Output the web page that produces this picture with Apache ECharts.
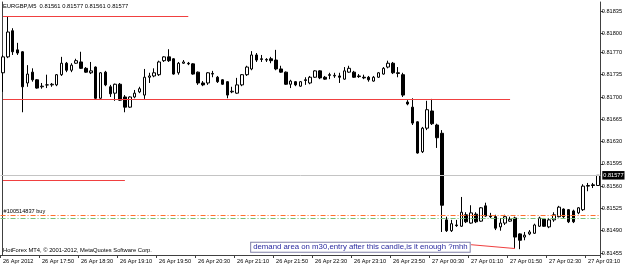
<!DOCTYPE html>
<html><head><meta charset="utf-8">
<script src="https://cdn.jsdelivr.net/npm/echarts@6/dist/echarts.min.js"></script>
<style>html,body{margin:0;padding:0;background:#fff}#c{width:625px;height:268px}</style>
</head><body><div id="c"></div>
<script>
const symbolName = 'EURGBP', timeframe = 'M5';
// bars: 26 Apr 17:10 ... 27 Apr 03:20, every 5 minutes
const barCount = 123;
const categories = [];
for (let i = 0; i < barCount; i++) {
  const m = 17 * 60 + 10 + 5 * i;
  const d = m >= 1440 ? 27 : 26, mm = m % 1440;
  categories.push(d + ' Apr ' + String(Math.floor(mm / 60)).padStart(2, '0') + ':' + String(mm % 60).padStart(2, '0'));
}
const xTickLabels = ['26 Apr 2012','26 Apr 17:50','26 Apr 18:30','26 Apr 19:10','26 Apr 19:50','26 Apr 20:30','26 Apr 21:10','26 Apr 21:50','26 Apr 22:30','26 Apr 23:10','26 Apr 23:50','27 Apr 00:30','27 Apr 01:10','27 Apr 01:50','27 Apr 02:30','27 Apr 03:10'];
const yTicks = [0.81455,0.81490,0.81525,0.81560,0.81595,0.81630,0.81665,0.81700,0.81735,0.81770,0.81800,0.81835];

const opens = [0.81738,0.81763,0.81804,0.81774,0.81771,0.81722,0.81739,0.81727,0.81716,0.81719,
0.81719,0.81719,0.81735,0.81753,0.81742,0.81753,0.81755,0.81745,0.81738,0.81747,
0.81698,0.81739,0.81716,0.81706,0.81720,0.81700,0.81684,0.81700,0.81708,0.81703,
0.81731,0.81733,0.81735,0.81757,0.81763,0.81760,0.81738,0.81753,0.81753,0.81752,
0.81739,0.81722,0.81722,0.81736,0.81731,0.81727,0.81724,0.81708,0.81706,0.81719,
0.81735,0.81744,0.81766,0.81760,0.81758,0.81760,0.81758,0.81744,0.81739,0.81720,
0.81724,0.81717,0.81727,0.81722,0.81731,0.81741,0.81731,0.81735,0.81733,0.81733,
0.81728,0.81739,0.81739,0.81733,0.81731,0.81731,0.81725,0.81731,0.81736,0.81747,
0.81753,0.81738,0.81735,0.81692,0.81684,0.81661,0.81614,0.81651,0.81678,0.81656,
0.81643,0.81507,0.81490,0.81499,0.81497,0.81515,0.81502,0.81516,0.81505,0.81529,
0.81513,0.81512,0.81496,0.81502,0.81505,0.81510,0.81485,0.81480,0.81485,0.81486,
0.81497,0.81508,0.81496,0.81507,0.81512,0.81524,0.81523,0.81521,0.81518,0.81523,
0.81560,0.81562,0.81561];
const closes = [0.81763,0.81802,0.81771,0.81769,0.81716,0.81736,0.81727,0.81714,0.81717,0.81719,
0.81720,0.81735,0.81753,0.81742,0.81750,0.81757,0.81745,0.81739,0.81741,0.81698,
0.81738,0.81719,0.81705,0.81720,0.81695,0.81684,0.81700,0.81706,0.81713,0.81731,
0.81733,0.81738,0.81755,0.81763,0.81757,0.81736,0.81753,0.81755,0.81752,0.81736,
0.81722,0.81719,0.81738,0.81737,0.81724,0.81720,0.81703,0.81709,0.81719,0.81735,
0.81747,0.81766,0.81758,0.81759,0.81759,0.81757,0.81744,0.81739,0.81720,0.81725,
0.81719,0.81724,0.81726,0.81731,0.81741,0.81730,0.81728,0.81734,0.81734,0.81731,
0.81741,0.81745,0.81731,0.81732,0.81730,0.81727,0.81731,0.81738,0.81745,0.81753,
0.81738,0.81737,0.81703,0.81689,0.81659,0.81612,0.81651,0.81680,0.81658,0.81636,
0.81530,0.81490,0.81501,0.81498,0.81519,0.81504,0.81518,0.81504,0.81526,0.81513,
0.81512,0.81494,0.81502,0.81512,0.81508,0.81480,0.81475,0.81483,0.81488,0.81499,
0.81510,0.81497,0.81507,0.81515,0.81527,0.81512,0.81504,0.81504,0.81526,0.81560,
0.81561,0.81561,0.81577];
const lows = [0.81708,0.81761,0.81766,0.81766,0.81676,0.81716,0.81724,0.81713,0.81713,0.81714,
0.81716,0.81717,0.81733,0.81739,0.81739,0.81752,0.81744,0.81738,0.81736,0.81697,
0.81697,0.81717,0.81700,0.81694,0.81694,0.81676,0.81683,0.81698,0.81706,0.81697,
0.81722,0.81731,0.81733,0.81755,0.81755,0.81735,0.81735,0.81752,0.81750,0.81735,
0.81719,0.81717,0.81719,0.81731,0.81722,0.81719,0.81698,0.81706,0.81705,0.81717,
0.81733,0.81742,0.81755,0.81755,0.81755,0.81753,0.81742,0.81738,0.81719,0.81714,
0.81717,0.81716,0.81719,0.81720,0.81730,0.81728,0.81727,0.81728,0.81730,0.81722,
0.81727,0.81738,0.81730,0.81730,0.81728,0.81724,0.81724,0.81730,0.81735,0.81745,
0.81736,0.81731,0.81700,0.81687,0.81656,0.81611,0.81612,0.81648,0.81656,0.81620,
0.81488,0.81488,0.81488,0.81496,0.81496,0.81502,0.81501,0.81502,0.81504,0.81512,
0.81510,0.81491,0.81490,0.81499,0.81504,0.81463,0.81461,0.81475,0.81483,0.81485,
0.81496,0.81496,0.81494,0.81504,0.81511,0.81510,0.81502,0.81502,0.81516,0.81521,
0.81552,0.81557,0.81561];
const highs = [0.81766,0.81827,0.81808,0.81785,0.81772,0.81750,0.81745,0.81728,0.81722,0.81735,
0.81722,0.81736,0.81763,0.81755,0.81753,0.81760,0.81771,0.81747,0.81755,0.81748,
0.81739,0.81741,0.81719,0.81721,0.81722,0.81703,0.81701,0.81711,0.81716,0.81744,
0.81738,0.81745,0.81757,0.81764,0.81775,0.81761,0.81755,0.81758,0.81755,0.81753,
0.81740,0.81725,0.81739,0.81741,0.81733,0.81728,0.81725,0.81716,0.81730,0.81736,
0.81749,0.81772,0.81769,0.81766,0.81761,0.81763,0.81774,0.81749,0.81740,0.81727,
0.81725,0.81725,0.81731,0.81733,0.81742,0.81742,0.81733,0.81738,0.81738,0.81738,
0.81747,0.81749,0.81741,0.81736,0.81735,0.81733,0.81733,0.81739,0.81747,0.81757,
0.81755,0.81747,0.81738,0.81695,0.81698,0.81662,0.81653,0.81694,0.81697,0.81658,
0.81648,0.81512,0.81507,0.81507,0.81543,0.81519,0.81530,0.81519,0.81527,0.81534,
0.81518,0.81515,0.81510,0.81515,0.81512,0.81512,0.81486,0.81488,0.81491,0.81501,
0.81512,0.81510,0.81510,0.81519,0.81529,0.81525,0.81524,0.81523,0.81527,0.81563,
0.81565,0.81565,0.81577];

// user-drawn objects: [fromBar, toBar, price]
const redLevels = [[0, 38, 0.81827], [0, 104, 0.81696], [0, 25, 0.81570]];
const trendLine = [[96, 0.81468], [105, 0.81462]];
const orderPrice = 0.81514, orderLabel = '#100514837 buy';
const secondOrderPrice = 0.81509;
const note = {bar: 73, price: 0.81464, text: 'demand area on m30,entry after this candle,is it enough ?mhh'};
const copyright = 'HotForex MT4, \u00a9 2001-2012, MetaQuotes Software Corp.';

const FONT = 'Liberation Sans, Arial, sans-serif';
const last = barCount - 1;
const f5 = v => Number(v).toFixed(5);
const header = symbolName + ',' + timeframe + '  ' + [opens[last], highs[last], lows[last], closes[last]].map(f5).join(' ');
const candles = categories.map((_, i) => [opens[i], closes[i], lows[i], highs[i]]);

const yMin = 0.8145185, yMax = 0.8184916;
const chart = echarts.init(document.getElementById('c'), null, {renderer: 'canvas'});
const redStyle = () => ({color: '#f04040', width: 1, type: 'solid'});

chart.setOption({
  animation: false,
  backgroundColor: '#ffffff',
  title: [
    {text: header, left: 3, top: 3, padding: 0, textStyle: {fontSize: 5.8, fontWeight: 'normal', color: '#000', fontFamily: FONT}},
    {text: copyright, left: 3, top: 247.5, padding: 0, textStyle: {fontSize: 5.8, fontWeight: 'normal', color: '#000', fontFamily: FONT}}
  ],
  grid: {left: 0, right: 24.3, top: 2, bottom: 13},
  xAxis: {
    type: 'category', data: categories, boundaryGap: true,
    axisLine: {show: true, onZero: false, lineStyle: {color: '#404040', width: 1}},
    axisTick: {show: true, length: 3, interval: i => i % 8 === 0, lineStyle: {color: '#404040'}},
    axisLabel: {show: true, interval: i => i % 8 === 0, align: 'left', margin: 3,
      formatter: (v, i) => xTickLabels[i / 8] || '', fontSize: 5.6, color: '#000', fontFamily: FONT},
    splitLine: {show: false}
  },
  yAxis: [{
    type: 'value', position: 'right', min: yMin, max: yMax,
    axisLine: {show: true, onZero: false, lineStyle: {color: '#404040', width: 1}},
    axisTick: {show: true, length: 3, customValues: yTicks, lineStyle: {color: '#404040'}},
    axisLabel: {show: true, customValues: yTicks, margin: 1.5, formatter: v => f5(v), fontSize: 5.6, color: '#000', fontFamily: FONT},
    splitLine: {show: false}
  }, {
    type: 'value', position: 'left', offset: -2, min: yMin, max: yMax,
    axisLine: {show: true, onZero: false, lineStyle: {color: '#404040', width: 1}},
    axisTick: {show: false}, axisLabel: {show: false}, splitLine: {show: false}
  }],
  series: [{
    name: 'levels', type: 'line', data: [], z: 1, silent: true,
    markLine: {
      silent: true, symbol: ['none', 'none'], animation: false, precision: 5,
      data: [
        {yAxis: closes[last], lineStyle: {color: '#c4c4c4', width: 1, type: 'solid'},
          label: {show: true, position: 'end', distance: 2, formatter: p => f5(p.value), color: '#fff', backgroundColor: '#000', padding: [1.5, 1, 1, 1], fontSize: 5.6, fontFamily: FONT}},
        {yAxis: orderPrice, lineStyle: {color: '#ff7030', width: 1, type: [5, 2, 1, 2]},
          label: {show: true, position: 'insideStartTop', distance: 1, formatter: orderLabel, color: '#000', fontSize: 5.6, fontFamily: FONT, padding: [0, 0, 0, 2]}},
        {yAxis: secondOrderPrice, lineStyle: {color: '#78c078', width: 1, type: [5, 2, 1, 2]}, label: {show: false}},
        ...redLevels.map(l => [{coord: [l[0], l[2]], lineStyle: redStyle(), label: {show: false}}, {coord: [l[1], l[2]]}]),
        [{coord: trendLine[0], lineStyle: redStyle(), label: {show: false}}, {coord: trendLine[1]}]
      ]
    }
  }, {
    name: 'EURGBP', type: 'candlestick', data: candles, barWidth: 3, z: 3,
    itemStyle: {color: '#ffffff', color0: '#000000', borderColor: '#000000', borderColor0: '#000000', borderWidth: 1},
    markPoint: {
      silent: true, animation: false, symbol: 'rect', symbolSize: 0, precision: 5,
      data: [{coord: [note.bar, note.price], label: {show: true, position: 'inside', offset: [1.5, 0], formatter: note.text,
        color: '#2a2aa0', fontSize: 7.8, fontFamily: FONT, backgroundColor: '#ffffff', borderColor: '#8080a8', borderWidth: 1, padding: [1, 2, 0, 2]}}]
    }
  }]
});
</script></body></html>
